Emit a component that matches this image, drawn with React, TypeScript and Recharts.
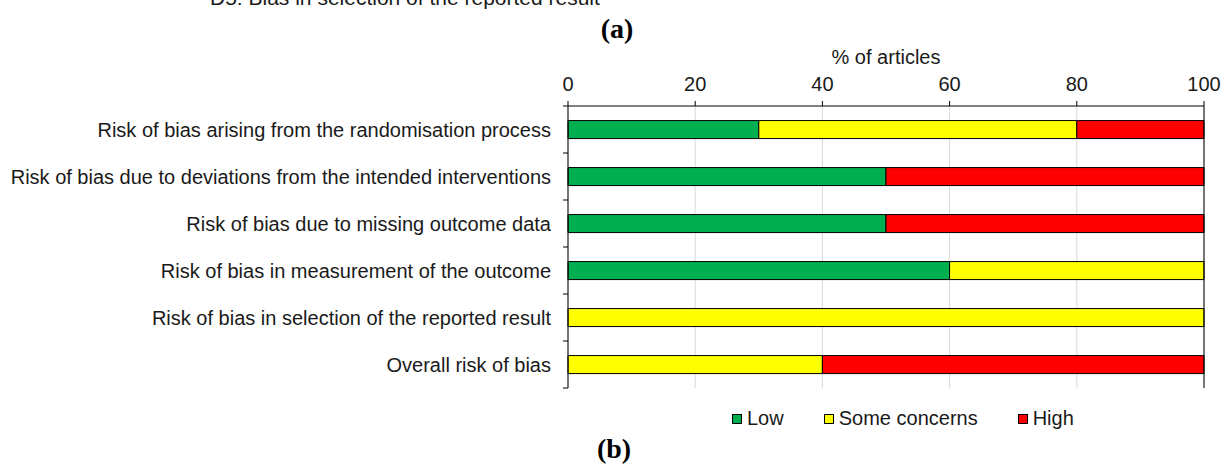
import React from "react";
import { BarChart, Bar, XAxis, YAxis, CartesianGrid, ReferenceLine, Legend } from "recharts";

const categories = [
  "Risk of bias arising from the randomisation process",
  "Risk of bias due to deviations from the intended interventions ",
  "Risk of bias due to missing outcome data",
  "Risk of bias in measurement of the outcome",
  "Risk of bias in selection of the reported result",
  "Overall risk of bias",
];
const lowValues = [30, 50, 50, 60, 0, 0];
const someValues = [50, 0, 0, 40, 100, 40];
const highValues = [20, 50, 50, 0, 0, 60];
const xTicks = [0, 20, 40, 60, 80, 100];
const seriesNames = ["Low", "Some concerns", "High"];
const seriesColors = ["#00B050", "#FFFF00", "#FF0000"];

const data = categories.map((c, i) => ({
  name: c,
  low: lowValues[i],
  some: someValues[i],
  high: highValues[i],
}));

const W = 1227;
const H = 466;
const TOP = 106;
const BOTTOM = 78;
const LEGEND_H = 23;
const PLOT_H = H - TOP - BOTTOM;
const BAND = PLOT_H / categories.length;
const FONT = "'Liberation Sans', Arial, sans-serif";
const TXT = "#1a1a1a";

const YTick = (props: any) => {
  const { x, y, payload, index } = props;
  const ax = x + 17;
  return (
    <g>
      <text x={x} y={y} dy={7} textAnchor="end" fontSize={20} fontFamily={FONT} fill={TXT}>
        {payload.value}
      </text>
      <line x1={ax - 5} x2={ax} y1={y - BAND / 2} y2={y - BAND / 2} stroke="#000" strokeWidth={1} />
      {index === categories.length - 1 && (
        <line x1={ax - 5} x2={ax} y1={y + BAND / 2} y2={y + BAND / 2} stroke="#000" strokeWidth={1} />
      )}
    </g>
  );
};

const LegendContent = () => (
  <div
    style={{
      display: "flex",
      gap: 40,
      paddingLeft: 732,
      height: LEGEND_H,
      lineHeight: LEGEND_H + "px",
      fontFamily: FONT,
      fontSize: 20,
      color: TXT,
    }}
  >
    {seriesNames.map((n, i) => (
      <div key={n} style={{ display: "flex", alignItems: "center" }}>
        <span
          style={{
            display: "inline-block",
            width: 8,
            height: 8,
            background: seriesColors[i],
            border: "1px solid #000",
            marginRight: 5,
          }}
        />
        <span>{n}</span>
      </div>
    ))}
  </div>
);

export default function App() {
  return (
    <div style={{ position: "absolute", left: 0, top: 0, width: W, height: H, background: "#fff", overflow: "hidden" }}>
      <div
        style={{
          position: "absolute",
          left: 210,
          top: -14,
          fontFamily: FONT,
          fontSize: 21,
          color: TXT,
          lineHeight: "24px",
          whiteSpace: "nowrap",
        }}
      >
        D5: Bias in selection of the reported result
      </div>
      <div
        style={{
          position: "absolute",
          left: 0,
          width: 1234,
          top: 13,
          textAlign: "center",
          fontFamily: "'Liberation Serif', 'DejaVu Serif', serif",
          fontWeight: "bold",
          fontSize: 28,
          lineHeight: "32px",
          color: "#000",
        }}
      >
        (a)
      </div>
      <div
        style={{
          position: "absolute",
          left: 568,
          width: 636,
          top: 45,
          textAlign: "center",
          fontFamily: FONT,
          fontSize: 20,
          lineHeight: "24px",
          color: TXT,
        }}
      >
        % of articles
      </div>
      <div
        style={{
          position: "absolute",
          left: 0,
          width: 1228,
          top: 433,
          textAlign: "center",
          fontFamily: "'Liberation Serif', 'DejaVu Serif', serif",
          fontWeight: "bold",
          fontSize: 28,
          lineHeight: "32px",
          color: "#000",
        }}
      >
        (b)
      </div>
      <div style={{ position: "absolute", left: 0, top: 0 }}>
        <BarChart
          width={W}
          height={H}
          data={data}
          layout="vertical"
          barCategoryGap="31%"
          margin={{ top: 0, right: 23, bottom: BOTTOM - LEGEND_H, left: 0 }}
        >
          <CartesianGrid horizontal={false} vertical={true} stroke="#d9d9d9" />
          <XAxis
            type="number"
            orientation="top"
            domain={[0, 100]}
            ticks={xTicks}
            height={TOP}
            tickSize={5}
            tickMargin={10}
            axisLine={{ stroke: "#000" }}
            tickLine={{ stroke: "#000" }}
            tick={{ fontSize: 20, fontFamily: FONT, fill: TXT }}
            interval={0}
          />
          <XAxis
            xAxisId="bottom"
            type="number"
            orientation="bottom"
            domain={[0, 100]}
            height={0}
            tick={false}
            tickLine={false}
            axisLine={{ stroke: "#000" }}
          />
          <YAxis
            type="category"
            dataKey="name"
            width={568}
            tickLine={false}
            tickMargin={11}
            axisLine={{ stroke: "#000" }}
            tick={<YTick />}
            interval={0}
          />
          <ReferenceLine x={100} stroke="#000" strokeWidth={1} />
          <Bar dataKey="low" name={seriesNames[0]} stackId="a" fill={seriesColors[0]} stroke="#000" strokeWidth={1} isAnimationActive={false} />
          <Bar dataKey="some" name={seriesNames[1]} stackId="a" fill={seriesColors[1]} stroke="#000" strokeWidth={1} isAnimationActive={false} />
          <Bar dataKey="high" name={seriesNames[2]} stackId="a" fill={seriesColors[2]} stroke="#000" strokeWidth={1} isAnimationActive={false} />
          <Legend
            content={<LegendContent />}
            wrapperStyle={{ position: "absolute", left: 0, top: 407, width: W, height: LEGEND_H }}
          />
        </BarChart>
      </div>
    </div>
  );
}
